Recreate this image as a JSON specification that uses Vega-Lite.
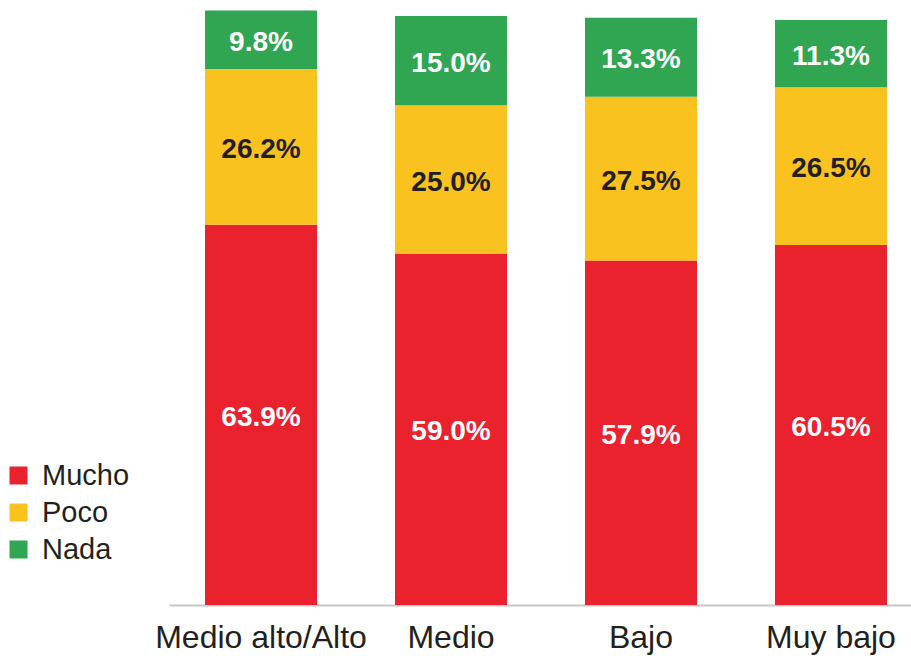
{
  "$schema": "https://vega.github.io/schema/vega-lite/v6.json",
  "autosize": {"type": "none"},
  "padding": {"left": 169, "top": 10, "right": 0, "bottom": 53},
  "width": 742,
  "height": 595,
  "background": "white",
  "config": {"view": {"stroke": null}, "font": "Liberation Sans"},
  "data": {"values": [
    {"grupo": "Medio alto/Alto", "serie": "Mucho", "k": 1, "v": 0.639},
    {"grupo": "Medio alto/Alto", "serie": "Poco", "k": 2, "v": 0.262},
    {"grupo": "Medio alto/Alto", "serie": "Nada", "k": 3, "v": 0.098},
    {"grupo": "Medio", "serie": "Mucho", "k": 1, "v": 0.590},
    {"grupo": "Medio", "serie": "Poco", "k": 2, "v": 0.250},
    {"grupo": "Medio", "serie": "Nada", "k": 3, "v": 0.150},
    {"grupo": "Bajo", "serie": "Mucho", "k": 1, "v": 0.579},
    {"grupo": "Bajo", "serie": "Poco", "k": 2, "v": 0.275},
    {"grupo": "Bajo", "serie": "Nada", "k": 3, "v": 0.133},
    {"grupo": "Muy bajo", "serie": "Mucho", "k": 1, "v": 0.605},
    {"grupo": "Muy bajo", "serie": "Poco", "k": 2, "v": 0.265},
    {"grupo": "Muy bajo", "serie": "Nada", "k": 3, "v": 0.113}
  ]},
  "transform": [
    {"stack": "v", "groupby": ["grupo"], "sort": [{"field": "k", "order": "ascending"}], "as": ["y0", "y1"]},
    {"calculate": "(datum.y0 + datum.y1) / 2", "as": "ymid"}
  ],
  "encoding": {
    "x": {
      "field": "grupo", "type": "nominal",
      "sort": ["Medio alto/Alto", "Medio", "Bajo", "Muy bajo"],
      "scale": {"paddingInner": 0.4105, "paddingOuter": 0.158, "align": 0.6},
      "axis": {
        "title": null, "labelAngle": 0, "labelFontSize": 32, "labelColor": "#231f20",
        "labelPadding": 17, "ticks": false, "domainColor": "#c8c8c8", "domainWidth": 2,
        "labelFont": "Liberation Sans", "labelLimit": 0
      }
    }
  },
  "layer": [
    {
      "mark": {"type": "bar"},
      "encoding": {
        "y": {"field": "y0", "type": "quantitative", "scale": {"domain": [0, 1]}, "axis": null},
        "y2": {"field": "y1"},
        "color": {
          "field": "serie", "type": "nominal",
          "scale": {"domain": ["Mucho", "Poco", "Nada"], "range": ["#E9222D", "#FAC21F", "#30A552"]},
          "legend": {
            "title": null, "orient": "none", "legendX": -165, "legendY": 451,
            "symbolType": "square", "symbolSize": 324, "symbolStrokeWidth": 0,
            "labelFontSize": 29, "labelColor": "#231f20", "labelOffset": 9,
            "rowPadding": 7, "padding": 0, "labelFont": "Liberation Sans"
          }
        }
      }
    },
    {
      "mark": {"type": "text", "font": "Liberation Sans", "fontWeight": "bold", "fontSize": 28, "baseline": "middle", "align": "center", "dy": 3},
      "encoding": {
        "y": {"field": "ymid", "type": "quantitative"},
        "text": {"field": "v", "type": "quantitative", "format": ".1%"},
        "color": {"condition": {"test": "datum.serie === 'Poco'", "value": "#231f20"}, "value": "#ffffff"}
      }
    }
  ]
}
